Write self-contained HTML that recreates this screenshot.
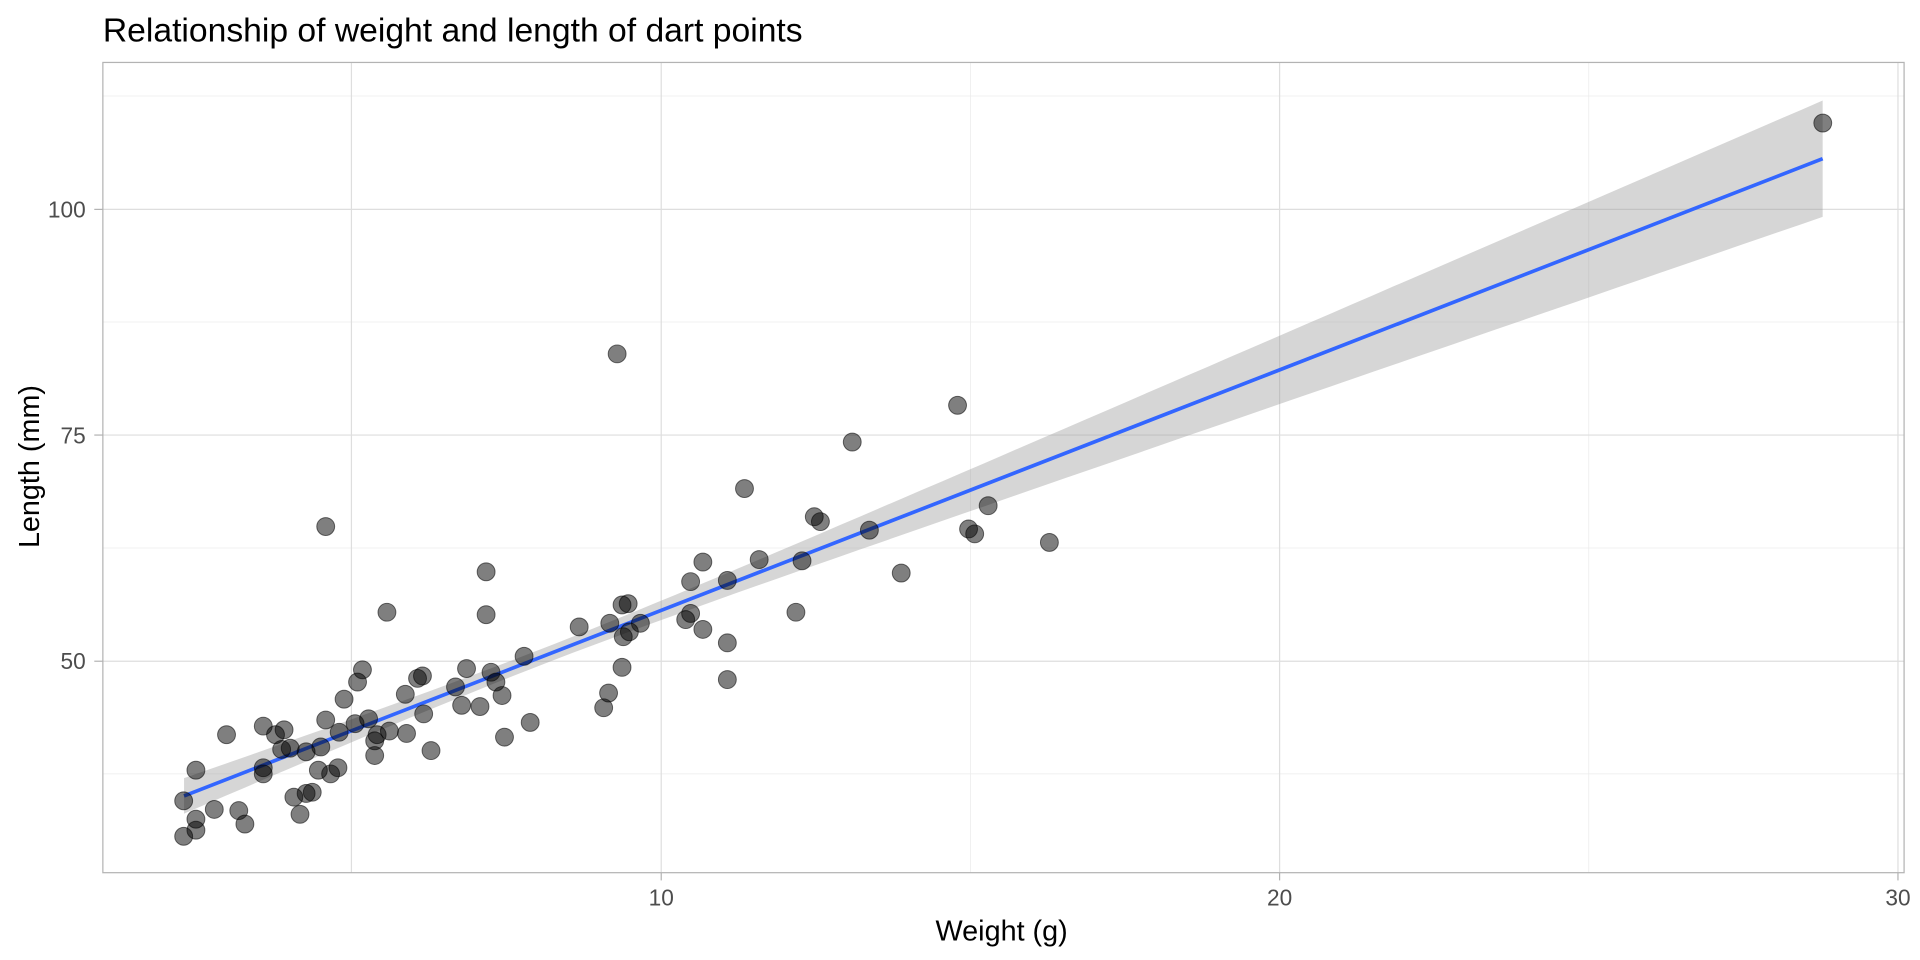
<!DOCTYPE html>
<html><head><meta charset="utf-8"><style>
html,body{margin:0;padding:0;background:#fff;}
svg{display:block;font-family:"Liberation Sans",Arial,sans-serif;}
</style></head><body>
<svg id="s" width="1920" height="960" viewBox="0 0 1568 784" xmlns="http://www.w3.org/2000/svg">
<rect width="1568" height="784" fill="#fff"/>
<text x="84" y="34" font-size="27.5" fill="#000">Relationship of weight and length of dart points</text>
<g stroke="#ebebeb" stroke-width="0.6">
<line x1="84" x2="1555" y1="78.4" y2="78.4"/><line x1="84" x2="1555" y1="263" y2="263"/><line x1="84" x2="1555" y1="447.5" y2="447.5"/><line x1="84" x2="1555" y1="632" y2="632"/>
<line y1="51" y2="712.5" x1="792.5" x2="792.5"/><line y1="51" y2="712.5" x1="1297.5" x2="1297.5"/>
</g>
<g stroke="#dedede" stroke-width="1">
<line x1="84" x2="1555" y1="171" y2="171"/><line x1="84" x2="1555" y1="355.3" y2="355.3"/><line x1="84" x2="1555" y1="540" y2="540"/>
<line y1="51" y2="712.5" x1="287" x2="287"/><line y1="51" y2="712.5" x1="540" x2="540"/><line y1="51" y2="712.5" x1="1045" x2="1045"/><line y1="51" y2="712.5" x1="1550" x2="1550"/>
</g>
<polygon id="rib" fill="#999" fill-opacity="0.4"/>
<line x1="150.3" y1="650" x2="1488.5" y2="129.6" stroke="#3366ff" stroke-width="3"/>
<g id="pts" fill="#000" fill-opacity="0.5" stroke="#000" stroke-opacity="0.55" stroke-width="0.8"></g>
<rect x="84" y="51" width="1471" height="661.7" fill="none" stroke="#b3b3b3" stroke-width="1"/>
<g stroke="#b3b3b3" stroke-width="1">
<line x1="77" x2="84" y1="171" y2="171"/><line x1="77" x2="84" y1="355.3" y2="355.3"/><line x1="77" x2="84" y1="540" y2="540"/>
<line y1="712.7" y2="719" x1="540" x2="540"/><line y1="712.7" y2="719" x1="1045" x2="1045"/><line y1="712.7" y2="719" x1="1550" x2="1550"/>
</g>
<g font-size="18.5" fill="#4d4d4d" text-anchor="end">
<text x="70" y="177.5">100</text><text x="70" y="362">75</text><text x="70" y="546.5">50</text>
</g>
<g font-size="18.5" fill="#4d4d4d" text-anchor="middle">
<text x="540" y="739.5">10</text><text x="1045" y="739.5">20</text><text x="1550" y="739.5">30</text>
</g>
<text x="818" y="768" font-size="23.5" text-anchor="middle" fill="#000">Weight (g)</text>
<text transform="translate(32,381) rotate(-90)" font-size="23.5" text-anchor="middle" fill="#000">Length (mm)</text>
</svg>
<script>
var P=[[150,683],[150,654],[160,678],[160,669],[160,629],[175,661],[185,600],[195,662],[200,673],[215,593],[215,632],[215,627],[225,600],[230,612],[232,596],[237,611],[240,651],[245,665],[250,648],[255,647],[250,614],[260,629],[262,610],[266,430],[266,588],[270,632],[276,627],[277,598],[281,571],[290,591],[292,557],[296,547],[301,587],[306,605],[306,617],[308,600],[316,500],[318,597],[331,567],[332,599],[341,554],[345,552],[346,583],[352,613],[372,561],[377,576],[381,546],[392,577],[397,467],[397,502],[401,549],[405,557],[410,568],[412,602],[428,536],[433,590],[473,512],[493,578],[497,566],[498,509],[504,289],[508,494],[508,545],[509,520],[513,493],[514,516],[523,509],[560,506],[564,475],[564,501],[574,514],[574,459],[594,474],[594,525],[594,555],[608,399],[620,457],[650,500],[655,458],[665,422],[670,426],[696,361],[710,433],[736,468],[782,331],[791,432],[796,436],[807,413],[857,443],[1488.6,100.5]];
var g=document.getElementById('pts'),ns='http://www.w3.org/2000/svg';
P.forEach(function(p){var c=document.createElementNS(ns,'circle');c.setAttribute('cx',p[0]);c.setAttribute('cy',p[1]);c.setAttribute('r',7.3);g.appendChild(c);});
var x0=150.3,y0=650,x1=1488.5,y1=129.6,up=[],dn=[];
for(var i=0;i<=80;i++){var x=x0+(x1-x0)*i/80,y=y0+(y1-y0)*(x-x0)/(x1-x0),h=Math.sqrt(42+0.00201*(x-439)*(x-439));up.push(x.toFixed(1)+','+(y-h).toFixed(1));dn.unshift(x.toFixed(1)+','+(y+h).toFixed(1));}
document.getElementById('rib').setAttribute('points',up.concat(dn).join(' '));
</script>
</body></html>
